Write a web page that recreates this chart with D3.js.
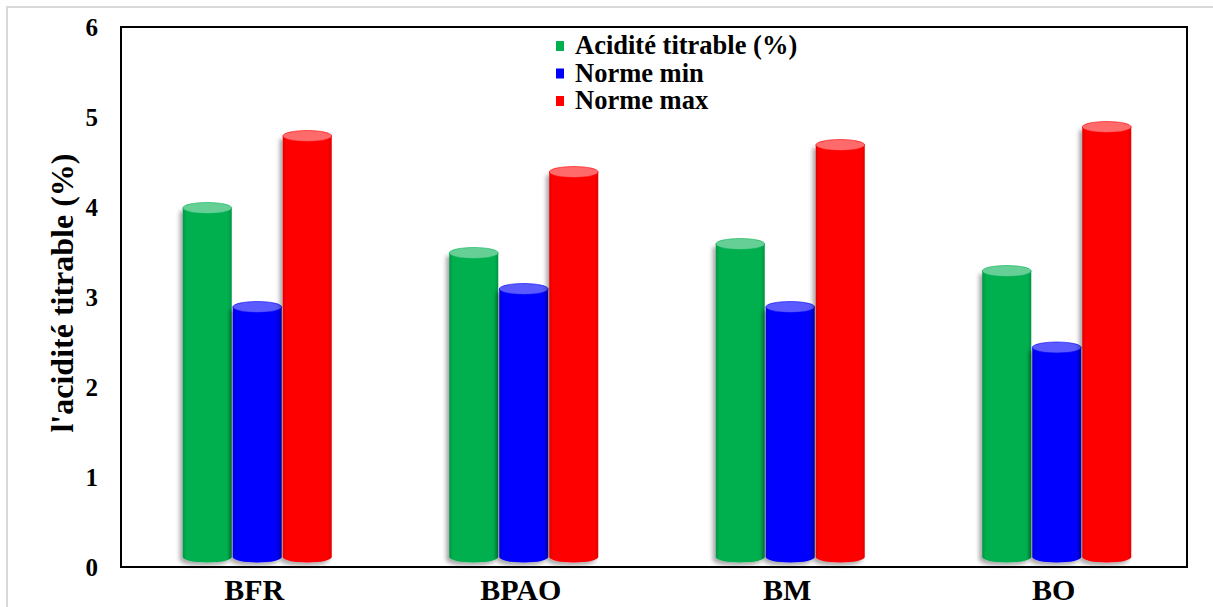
<!DOCTYPE html>
<html>
<head>
<meta charset="utf-8">
<script src="https://cdn.jsdelivr.net/npm/d3@7"></script>
<style>
  html, body { margin: 0; padding: 0; background: #fff; }
  svg { display: block; }
  text { font-family: "Liberation Serif", "Times New Roman", Times, serif; font-weight: bold; fill: #000; }
</style>
</head>
<body>
<svg id="chart" width="1213" height="607"></svg>
<script>
// Titratable acidity of the samples compared with the standard's limits
const categories = ["BFR", "BPAO", "BM", "BO"];
const seriesNames = ["Acidité titrable (%)", "Norme min", "Norme max"];
const acidite = [4.0, 3.5, 3.6, 3.3];
const normeMin = [2.9, 3.1, 2.9, 2.45];
const normeMax = [4.8, 4.4, 4.7, 4.9];
const yTicks = [0, 1, 2, 3, 4, 5, 6];

const colors = ["#00b050", "#0000ff", "#ff0000"];
const capColors = ["#66cf96", "#5a5aff", "#ff6a6a"];
const edgeColors = ["#009444", "#0000d8", "#e00000"];

const rows = categories.map((c, i) => ({
  cat: c,
  values: [acidite[i], normeMin[i], normeMax[i]]
}));

const svg = d3.select("#chart");
const W = 1213, H = 607;
const m = { left: 121, right: 1187, top: 27, bottom: 567 };
const serif = "'Liberation Serif', 'Times New Roman', Times, serif";

// outer frame of the picture area
svg.append("path")
  .attr("d", `M7,${H} V7 H${W}`)
  .attr("fill", "none").attr("stroke", "#d9d9d9").attr("stroke-width", 2);

const x = d3.scaleBand().domain(categories).range([m.left, m.right]).paddingInner(0).paddingOuter(0);
const groupWidth = 150;
const xs = d3.scaleBand().domain(d3.range(seriesNames.length))
  .range([0, groupWidth]).padding(0);
const y = d3.scaleLinear().domain([0, 6]).range([m.bottom, m.top]);

const defs = svg.append("defs");
const f = defs.append("filter").attr("id", "shadow")
  .attr("x", "-30%").attr("y", "-10%").attr("width", "160%").attr("height", "120%");
f.append("feDropShadow").attr("dx", -3).attr("dy", 3).attr("stdDeviation", 2.2)
  .attr("flood-color", "#000").attr("flood-opacity", 0.35);

colors.forEach((c, k) => {
  const g = defs.append("linearGradient").attr("id", "side" + k)
    .attr("x1", "0%").attr("x2", "100%");
  g.append("stop").attr("offset", "0%").attr("stop-color", edgeColors[k]);
  g.append("stop").attr("offset", "8%").attr("stop-color", c);
  g.append("stop").attr("offset", "92%").attr("stop-color", c);
  g.append("stop").attr("offset", "100%").attr("stop-color", edgeColors[k]);
});

// cylinders
const rx = xs.bandwidth() / 2 - 0.5;
const ry = 5.5;
const baseY = y(0) - 10;

const groups = svg.append("g").selectAll("g").data(rows).join("g")
  .attr("transform", d => `translate(${x(d.cat) + (x.bandwidth() - groupWidth) / 2 + 3},0)`);

groups.selectAll("g.cyl").data(d => d.values.map((v, k) => ({ v, k })))
  .join("g").attr("class", "cyl")
  .each(function(d) {
    const g = d3.select(this);
    const cx = xs(d.k) + xs.bandwidth() / 2;
    const topY = y(d.v) + 1;
    const body = g.append("g").attr("filter", "url(#shadow)");
    body.append("path")
      .attr("d", `M${cx - rx},${topY} V${baseY} A${rx},${ry} 0 0 0 ${cx + rx},${baseY} V${topY} Z`)
      .attr("fill", `url(#side${d.k})`);
    g.append("ellipse")
      .attr("cx", cx).attr("cy", topY).attr("rx", rx).attr("ry", ry)
      .attr("fill", capColors[d.k])
      .attr("stroke", colors[d.k]).attr("stroke-opacity", 0.6).attr("stroke-width", 1);
  });

// plot frame
svg.append("rect")
  .attr("x", m.left).attr("y", m.top)
  .attr("width", m.right - m.left).attr("height", m.bottom - m.top)
  .attr("fill", "none").attr("stroke", "#000").attr("stroke-width", 2);

// y axis tick labels
const yAxis = d3.axisLeft(y).tickValues(yTicks).tickSize(0).tickPadding(23).tickFormat(d3.format("d"));
const yg = svg.append("g").attr("transform", `translate(${m.left},0)`).call(yAxis);
yg.select(".domain").remove();
yg.attr("font-family", null);
yg.selectAll("text").attr("font-size", 25).style("font-family", serif).style("font-weight", "bold");

// x axis labels
const xAxis = d3.axisBottom(x).tickSize(0).tickPadding(12);
const xg = svg.append("g").attr("transform", `translate(0,${m.bottom})`).call(xAxis);
xg.select(".domain").remove();
xg.attr("font-family", null);
xg.selectAll("text").attr("font-size", 30).style("font-family", serif).style("font-weight", "bold");

// y axis title
svg.append("text")
  .attr("transform", `translate(73,${(m.top + m.bottom) / 2 - 4}) rotate(-90)`)
  .attr("text-anchor", "middle")
  .attr("font-size", 32)
  .text("l'acidité titrable (%)");

// legend
const legend = svg.append("g").attr("transform", "translate(556,0)");
seriesNames.forEach((name, k) => {
  const ly = 46 + k * 27.5;
  legend.append("rect").attr("x", 0).attr("y", ly - 5).attr("width", 8).attr("height", 10)
    .attr("fill", colors[k]);
  legend.append("text").attr("x", 19).attr("y", ly + 8).attr("font-size", 26.5).text(name);
});
</script>
</body>
</html>
